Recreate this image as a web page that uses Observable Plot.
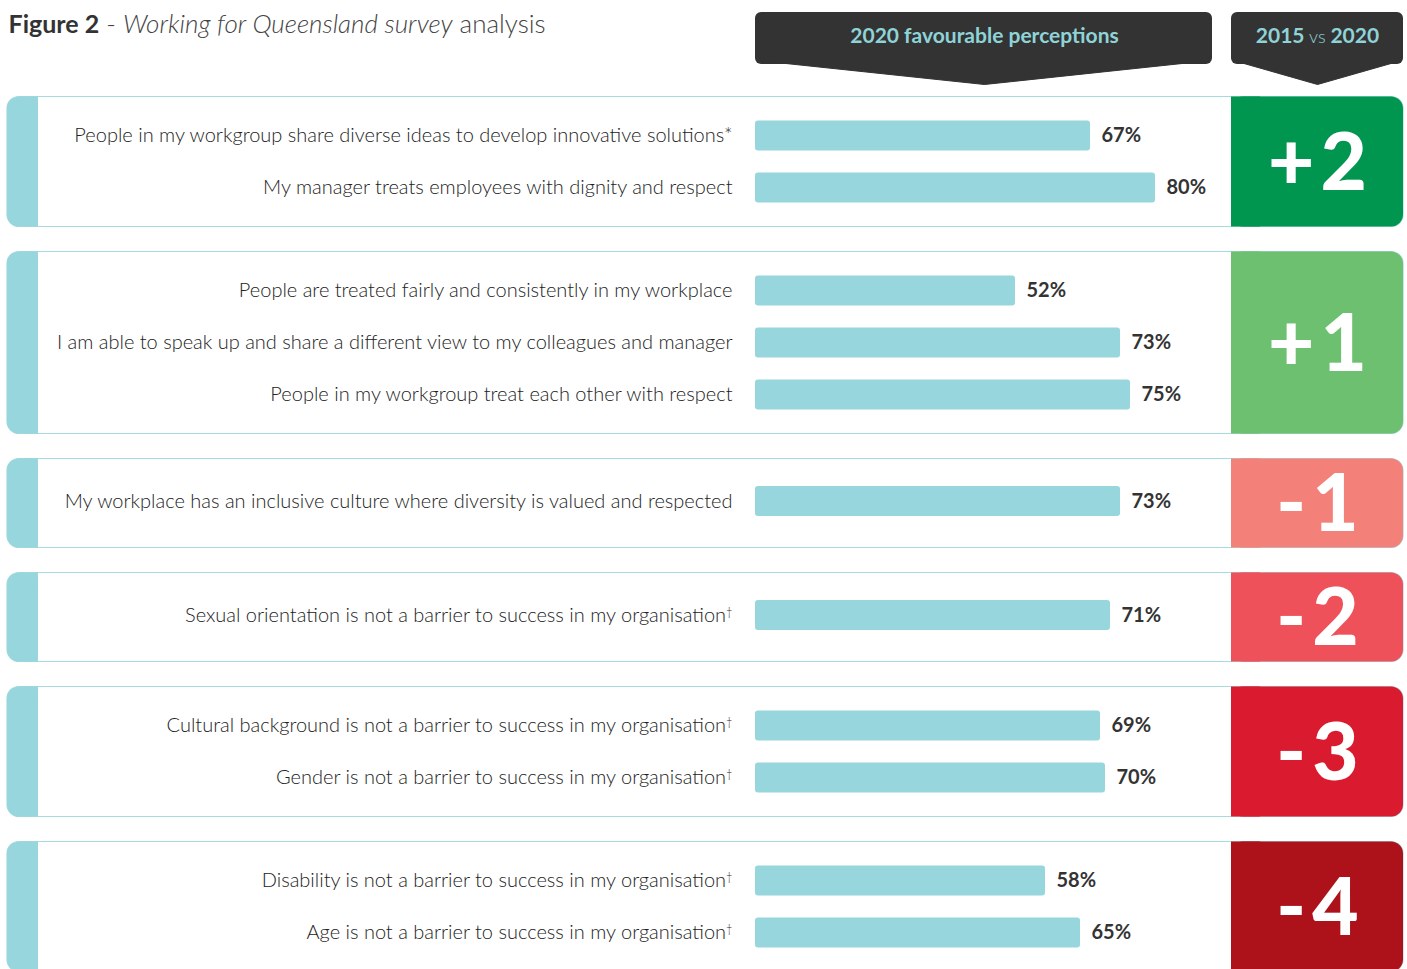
<!DOCTYPE html>
<html>
<head>
<meta charset="utf-8">
<script src="https://cdn.jsdelivr.net/npm/d3@7"></script>
<script src="https://cdn.jsdelivr.net/npm/@observablehq/plot@0.6"></script>
<style>
  html, body { margin: 0; padding: 0; background: #fff; overflow: hidden; }
  #chart svg { display: block; }
</style>
</head>
<body>
<div id="chart"></div>
<script>
// ---------------- DATA ----------------
const statements = [
  "People in my workgroup share diverse ideas to develop innovative solutions*",
  "My manager treats employees with dignity and respect",
  "People are treated fairly and consistently in my workplace",
  "I am able to speak up and share a different view to my colleagues and manager",
  "People in my workgroup treat each other with respect",
  "My workplace has an inclusive culture where diversity is valued and respected",
  "Sexual orientation is not a barrier to success in my organisation†",
  "Cultural background is not a barrier to success in my organisation†",
  "Gender is not a barrier to success in my organisation†",
  "Disability is not a barrier to success in my organisation†",
  "Age is not a barrier to success in my organisation†"
];
const favourable2020 = [67, 80, 52, 73, 75, 73, 71, 69, 70, 58, 65];
const groupIndex = [0, 0, 1, 1, 1, 2, 3, 4, 4, 5, 5];
const change2015to2020 = [2, 1, -1, -2, -3, -4];
const changeLabels = ["+2", "+1", "-1", "-2", "-3", "-4"];
const changeColors = ["#00964f", "#6cc070", "#f48179", "#ef515b", "#da1a2f", "#ad1119"];
const titleText = "Figure 2 - Working for Queensland survey analysis";
const headerBars = "2020 favourable perceptions";
const headerChange = "2015 vs 2020";

// ---------------- LAYOUT (styling constants) ----------------
const W = 1407, H = 969;
const X0 = 755, PX = 5;                 // bar origin and pixels per percentage point
const ux = px => (px - X0) / PX;        // layout pixel -> x-scale units
const ROW = 52, PAD = 39, MINH = 89, GAP = 25, TOP = 96.5, BAR = 30;
const teal = "#96d6dc", dark = "#333333";

// compute group boxes and row centres from group membership
const nGroups = change2015to2020.length;
const boxes = [];
const rows = [];
let yTop = TOP;
for (let g = 0; g < nGroups; g++) {
  const idx = groupIndex.map((gi, i) => gi === g ? i : -1).filter(i => i >= 0);
  const n = idx.length;
  const h = Math.max((n - 1) * ROW + 2 * PAD, MINH);
  const c = yTop + h / 2;
  boxes.push({g, y1: yTop, y2: yTop + h, yc: c, change: change2015to2020[g], label: changeLabels[g]});
  idx.forEach((i, k) => rows.push({
    statement: statements[i], value: favourable2020[i],
    y: c + (k - (n - 1) / 2) * ROW - (n === 1 ? 2 : 0)
  }));
  yTop += h + GAP;
}

const bannerMain = [{x: ux(757), y: 60}, {x: ux(984), y: 84}, {x: ux(1210), y: 60}];
const bannerChange = [{x: ux(1233), y: 60}, {x: ux(1317), y: 84}, {x: ux(1401), y: 60}];

const labelFont = "Lato, 'Noto Sans', sans-serif";

const svg = Plot.plot({
  width: W, height: H,
  marginTop: 0, marginRight: 0, marginBottom: 0, marginLeft: 0,
  x: {domain: [0, 100], range: [X0, X0 + 100 * PX], axis: null},
  y: {domain: [0, H], range: [0, H], axis: null},
  color: {domain: change2015to2020, range: changeColors},
  style: {fontFamily: labelFont, background: "#fff", overflow: "hidden"},
  marks: [
    // group boxes
    Plot.rect(boxes, {x1: ux(7), x2: ux(1403), y1: "y1", y2: "y2", rx: 12, fill: "#fff", stroke: "#a6dbdf", strokeWidth: 1.2}),
    Plot.rect(boxes, {x1: ux(7), x2: ux(38), y1: "y1", y2: "y2", rx: 12, fill: teal}),
    Plot.rect(boxes, {x1: ux(24), x2: ux(38), y1: "y1", y2: "y2", fill: teal}),
    Plot.rect(boxes, {x1: ux(1231), x2: ux(1403), y1: "y1", y2: "y2", rx: 12, fill: "change"}),
    Plot.rect(boxes, {x1: ux(1231), x2: ux(1260), y1: "y1", y2: "y2", fill: "change"}),
    // header banners
    Plot.rect([0], {x1: ux(755), x2: ux(1212), y1: 12, y2: 64, rx: 6, fill: dark}),
    Plot.line(bannerMain, {x: "x", y: "y", fill: dark, stroke: dark, strokeWidth: 1}),
    Plot.rect([0], {x1: ux(1231), x2: ux(1403), y1: 12, y2: 64, rx: 6, fill: dark}),
    Plot.line(bannerChange, {x: "x", y: "y", fill: dark, stroke: dark, strokeWidth: 1}),
    Plot.text([headerBars], {x: ux(984), y: 36, text: d => d, fill: "#8fd3d8", fontSize: 21, fontWeight: "bold"}),
    Plot.text([headerChange], {x: ux(1317), y: 36, text: d => d, fill: "#8fd3d8", fontSize: 21, fontWeight: "bold"}),
    // bars
    Plot.rect(rows, {x1: 0, x2: "value", y1: d => d.y - BAR / 2, y2: d => d.y + BAR / 2, fill: teal, rx: 3}),
    // statements
    Plot.text(rows, {x: 0, y: "y", text: "statement", dx: -23, textAnchor: "end", fontSize: 20, fontWeight: 300, fill: "#222"}),
    // value labels
    Plot.text(rows, {x: "value", y: "y", text: d => d.value + "%", dx: 11, textAnchor: "start", fontSize: 20, fontWeight: "bold", fill: dark}),
    // change numbers
    Plot.text(boxes, {x: ux(1317), y: "yc", text: "label", fill: "#fff", fontSize: 80, fontWeight: 900, dy: 2}),
    // title
    Plot.text([titleText], {x: ux(8), y: 24, text: d => d, textAnchor: "start", fontSize: 25, fill: dark})
  ]
});

// rich-text touches: superscript daggers, title styles, "vs", sign spacing
d3.select(svg).selectAll("text").each(function() {
  const t = this.textContent;
  const s = d3.select(this);
  if (t.endsWith("†")) {
    s.text(t.slice(0, -1));
    s.append("tspan").attr("dy", "-0.55em").attr("font-size", 11).text("†");
  } else if (t === titleText) {
    s.text(null);
    s.append("tspan").attr("font-weight", "bold").attr("fill", dark).text("Figure 2");
    s.append("tspan").attr("font-weight", 300).attr("font-size", 26).attr("fill", "#444").text(" - ");
    s.append("tspan").attr("font-weight", 300).attr("font-size", 26).attr("font-style", "italic").attr("fill", "#444").text("Working for Queensland survey");
    s.append("tspan").attr("font-weight", 300).attr("font-size", 26).attr("fill", "#444").text(" analysis");
  } else if (t === headerChange) {
    s.text(null);
    s.append("tspan").text("2015");
    s.append("tspan").attr("font-weight", 300).attr("font-size", 18).text(" vs ");
    s.append("tspan").text("2020");
  } else if (changeLabels.includes(t)) {
    s.text(null);
    s.append("tspan").text(t[0]);
    s.append("tspan").attr("dx", 6).text(t.slice(1));
  }
});

document.getElementById("chart").appendChild(svg);
</script>
</body>
</html>
